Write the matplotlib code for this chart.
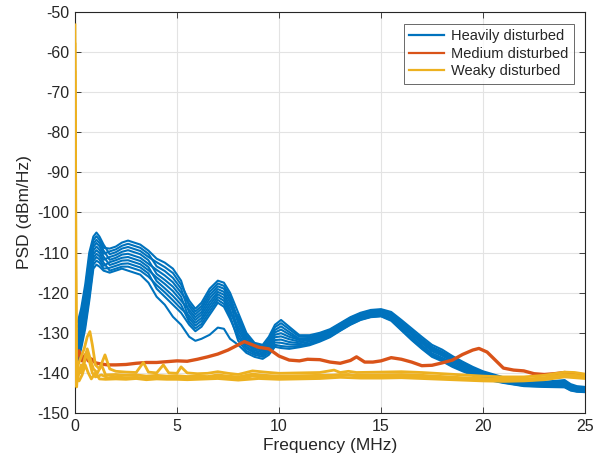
import matplotlib
matplotlib.use("Agg")
import matplotlib.pyplot as plt

plt.rcParams['font.family'] = ['Liberation Sans', 'DejaVu Sans']
plt.rcParams['axes.unicode_minus'] = False

# ---- data -------------------------------------------------------------
freq_heavy = [0, 0.15, 0.3, 0.5, 0.7, 0.9, 1.05, 1.2, 1.4,
              1.7, 2.0, 2.3, 2.6, 2.9, 3.2, 3.6,
              4.0, 4.4, 4.8, 5.2,
              5.6, 5.9, 6.2, 6.6, 7.0, 7.3, 7.6,
              8.0, 8.4, 8.8, 9.2, 9.5, 9.8, 10.1, 10.5,
              11, 11.5, 12, 12.5, 13, 13.5, 14, 14.5, 15, 15.5, 16, 16.5, 17, 17.5,
              18, 18.5, 19, 19.5, 20, 21, 22, 23, 24, 24.3, 24.6, 25]

heavy_1 = [-128, -127, -124, -118, -110, -106, -105, -106, -108,
           -110.4, -109.9, -109, -108.6, -109.1, -109.6, -111.1,
           -112.4, -113.6, -115.1, -118,
           -122, -124, -122.5, -119, -117, -117.5, -120,
           -125, -130, -132.5, -133, -131, -128, -126.8, -128.5,
           -130.6, -130.6, -130, -129.1, -127.6, -126.1, -125, -124.3, -124.1, -124.8,
           -126.8, -128.9, -131, -133, -134.2, -135.8, -137.2, -138.5, -139.6, -141.1,
           -142, -142.2, -141.8, -142.8, -143.3, -143.5]
heavy_2 = [-129.4, -128.1, -125.1, -119.3, -111.4, -106.9, -105.9, -106.8, -108.8,
           -109, -108.5, -107.5, -107, -107.5, -108, -109.5,
           -111.5, -112.5, -114, -117,
           -123.5, -125.4, -124, -120.6, -118.4, -119, -121.6,
           -127.6, -131.7, -133.6, -134.1, -132.5, -129.9, -129.2, -130.4,
           -131.7, -131.4, -130.7, -129.7, -128.2, -126.7, -125.5, -124.8, -124.6, -125.5,
           -127.7, -129.9, -132.1, -134.1, -135.2, -136.7, -138, -139.2, -140.2, -141.6,
           -142.4, -142.6, -141.9, -143.5, -143.9, -144]
heavy_3 = [-130.8, -129.3, -126.3, -120.5, -112.8, -107.8, -106.8, -107.6, -109.5,
           -111.8, -111.3, -110.5, -110.3, -110.8, -111.3, -112.8,
           -114.3, -115.7, -117.4, -120,
           -122.8, -124.7, -123.3, -119.8, -117.7, -118.3, -120.8,
           -126.8, -131.1, -133.3, -133.8, -132, -129.3, -128.4, -129.8,
           -131.5, -131.3, -130.6, -129.6, -128.1, -126.6, -125.4, -124.7, -124.5, -125.4,
           -127.5, -129.8, -131.9, -133.9, -135.1, -136.6, -137.9, -139.1, -140.1, -141.5,
           -142.3, -142.5, -142.4, -143.4, -143.8, -143.9]
heavy_4 = [-132.1, -130.4, -127.4, -121.8, -114.1, -108.6, -107.6, -108.4, -110.3,
           -109.7, -109.2, -108.3, -107.8, -108.3, -108.8, -110.3,
           -113.4, -114.6, -116.3, -119,
           -125, -126.8, -125.5, -122.3, -119.8, -120.5, -123.3,
           -125.9, -130.6, -132.9, -133.4, -131.5, -128.6, -127.6, -129.1,
           -131, -131, -130.3, -129.3, -127.8, -126.3, -125.2, -124.5, -124.3, -125.1,
           -127.2, -129.4, -131.5, -133.5, -134.7, -136.2, -137.6, -138.8, -139.9, -141.3,
           -142.2, -142.4, -142.1, -143.1, -143.6, -143.7]
heavy_5 = [-133.5, -131.5, -128.5, -123, -115.5, -109.5, -108.5, -109.3, -111,
           -113.1, -112.6, -112, -111.9, -112.4, -112.9, -114.4,
           -116.2, -117.8, -119.6, -122,
           -124.3, -126.1, -124.8, -121.4, -119.1, -119.8, -122.4,
           -129.4, -132.8, -134.4, -134.9, -133.5, -131.1, -130.9, -131.6,
           -132.2, -131.8, -131.1, -130.1, -128.6, -127.1, -125.9, -125.2, -125, -125.9,
           -128.2, -130.4, -132.6, -134.6, -135.7, -137.2, -138.4, -139.6, -140.6, -141.8,
           -142.6, -142.8, -142.8, -143.7, -144.1, -144.2]
heavy_6 = [-134.9, -132.6, -129.6, -124.3, -116.9, -110.4, -109.4, -110.1, -111.8,
           -111.1, -110.6, -109.8, -109.4, -109.9, -110.4, -111.9,
           -115.3, -116.8, -118.5, -121,
           -126.5, -128.2, -127, -123.9, -121.1, -122, -124.9,
           -128.5, -132.3, -134, -134.5, -133, -130.5, -130.1, -131,
           -131.8, -131.5, -130.8, -129.8, -128.3, -126.8, -125.6, -124.9, -124.7, -125.6,
           -127.8, -130, -132.2, -134.2, -135.3, -136.8, -138.1, -139.3, -140.3, -141.6,
           -142.4, -142.6, -142.5, -143.5, -143.9, -144]
heavy_7 = [-136.3, -133.8, -130.8, -125.5, -118.3, -111.3, -110.3, -110.9, -112.5,
           -114.5, -114, -113.5, -113.5, -114, -114.5, -116,
           -118.1, -119.9, -121.9, -124,
           -125.8, -127.5, -126.3, -123.1, -120.4, -121.3, -124.1,
           -130.3, -133.4, -134.8, -135.3, -134, -131.8, -131.7, -132.3,
           -132.6, -132.2, -131.4, -130.4, -128.9, -127.4, -126.2, -125.5, -125.3, -126.3,
           -128.6, -130.9, -133.1, -135.1, -136.2, -137.6, -138.8, -139.9, -140.8, -142,
           -142.8, -143, -143, -144, -144.3, -144.4]
heavy_8 = [-137.6, -134.9, -131.9, -126.8, -119.6, -112.1, -111.1, -111.7, -113.3,
           -112.4, -111.9, -111.3, -111.1, -111.6, -112.1, -113.6,
           -117.1, -118.9, -120.8, -123,
           -127.3, -128.9, -127.8, -124.7, -121.8, -122.8, -125.7,
           -132, -134.5, -135.5, -136, -135, -133, -133.3, -133.5,
           -133.3, -132.9, -132, -130.9, -129.4, -127.9, -126.7, -126, -125.8, -126.8,
           -129.2, -131.6, -133.8, -135.8, -136.9, -138.3, -139.4, -140.4, -141.3, -142.4,
           -143.2, -143.4, -143.5, -144.3, -144.6, -144.7]
heavy_9 = [-139, -136, -133, -128, -121, -113, -112, -112.5, -114,
           -113.8, -113.3, -112.8, -112.7, -113.2, -113.7, -115.2,
           -119, -121, -123, -125,
           -128, -129.6, -128.5, -125.5, -122.5, -123.5, -126.5,
           -131.1, -133.9, -135.1, -135.6, -134.5, -132.4, -132.5, -132.9,
           -133, -132.6, -131.7, -130.7, -129.2, -127.7, -126.5, -125.8, -125.6, -126.6,
           -129, -131.3, -133.5, -135.5, -136.6, -138, -139.2, -140.2, -141.1, -142.2,
           -143, -143.2, -143.3, -144.2, -144.5, -144.6]
heavy_10 = [-140, -137, -134, -129, -122, -114, -113, -113.5, -114.5,
            -115, -114.5, -114, -114.5, -115, -115.5, -117.5,
            -121, -123, -126, -128,
            -131, -132, -131.5, -130.5, -128.7, -129, -131.5,
            -133, -135, -136, -136.5, -135.5, -133.5, -133.8, -134,
            -133.6, -133.1, -132.2, -131.1, -129.5, -128, -126.8, -126.1, -125.9, -127,
            -129.4, -131.8, -134, -136, -137.1, -138.5, -139.6, -140.6, -141.5, -142.5,
            -143.3, -143.5, -143.6, -144.4, -144.7, -144.8]

freq_medium = [0, 0.1, 0.2, 0.35, 0.5, 0.65, 0.8, 1.0, 1.3, 1.6, 2.0, 2.5, 3.0, 3.5,
               4.0, 4.5, 5.0, 5.5, 6.0, 6.5, 7.0, 7.5, 8.0, 8.3, 8.6, 9.0, 9.5, 10.0,
               10.5, 11.0, 11.4, 12.0, 12.5, 13.0, 13.5, 13.8, 14.2, 14.6, 15.0, 15.5,
               16.0, 16.5, 17.0, 17.5, 18.0, 18.5, 19.0, 19.5, 19.8, 20.2, 20.6, 21.0,
               21.5, 22.0, 22.5, 23.0, 23.5, 24.0, 24.5, 25]
medium = [-142, -136, -134.5, -137, -135.5, -137, -136.5, -137.5, -137.8, -138, -138,
          -137.9, -137.6, -137.4, -137.4, -137.2, -137, -137.1, -136.6, -136, -135.3,
          -134.3, -133, -132.2, -132.8, -133.6, -134, -135.8, -136.8, -137, -136.6,
          -136.7, -137.3, -137.6, -136.9, -136, -137.3, -137.3, -137, -136.2, -136.6,
          -137.3, -138.2, -138.1, -137.5, -136.8, -135.4, -134.3, -133.9, -134.8, -136.8,
          -138.8, -139.3, -139.5, -140.2, -140.4, -140.2, -139.9, -140.2, -140.5]

freq_weak_1 = [0, 0.04, 0.08, 0.15, 0.3, 0.45, 0.6, 0.73, 0.85, 1.0, 1.2, 1.47, 1.7,
               2.0, 2.5, 3.0, 3.35, 3.6, 4.0, 4.33, 4.6, 5.0, 5.2, 5.5, 6.0, 6.5, 7.0,
               7.5, 8.0, 8.7, 9.3, 10, 11, 12, 12.7, 13.0, 13.4, 13.8, 15, 16, 17, 18,
               19, 20, 21, 22, 23, 24, 24.5, 25]
weak_1 = [-53.2, -100, -143.5, -138, -136, -134, -131, -129.7, -133, -138, -139,
          -135.5, -139, -139.6, -139.8, -139.9, -137.4, -139.8, -140, -138, -140,
          -140.1, -138.5, -140, -140.2, -140.1, -139.7, -140.1, -140.4, -139.5, -139.8,
          -140.1, -140, -139.9, -139.3, -139.9, -139.6, -139.9, -139.8, -139.7, -139.9,
          -140.2, -140.5, -140.8, -141, -141, -140.6, -139.8, -139.9, -140.3]

freq_weak_2 = [0, 0.05, 0.15, 0.3, 0.45, 0.6, 0.75, 0.9, 1.1, 1.3, 1.5, 2.0, 2.5,
               3.0, 3.5, 4.0, 4.5, 5.0, 5.5, 6.0, 6.5, 7.0, 7.5, 8.0, 8.7, 9.3, 10,
               11, 12, 13, 14, 15, 16, 17, 18, 19, 20, 21, 22, 23, 24, 25]
weak_2 = [-58, -142, -139, -140, -137, -134, -136.5, -139, -140, -138, -140.5, -140.4,
          -140.6, -140.5, -140.8, -140.6, -140.8, -140.7, -140.9, -140.8, -140.9,
          -140.5, -140.8, -141, -140.3, -140.6, -140.8, -140.7, -140.6, -140.5, -140.6,
          -140.5, -140.4, -140.6, -140.9, -141.2, -141.4, -141.6, -141.6, -141.2,
          -140.4, -140.8]

freq_weak_3 = [0, 0.05, 0.15, 0.3, 0.4, 0.55, 0.7, 0.85, 1.0, 1.3, 1.6, 2.0, 2.5,
               3.0, 3.5, 4.0, 4.5, 5.0, 5.5, 6.0, 6.5, 7.0, 7.5, 8.0, 8.7, 9.3, 10,
               11, 12, 12.7, 13.4, 14, 15, 16, 17, 18, 19, 20, 21, 22, 23, 24, 25]
weak_3 = [-65, -143, -141, -138, -139, -135, -137, -140, -141, -140.5, -141.2, -141,
          -141.2, -141.1, -141.3, -141.1, -141.4, -141.2, -141.4, -141.3, -141.2, -141,
          -141.3, -141.5, -140.8, -141.1, -141.3, -141.2, -141, -140.6, -140.4, -141,
          -141, -140.9, -141.1, -141.4, -141.6, -141.8, -142, -141.9, -141.5, -140.8,
          -141.2]

freq_weak_4 = [0, 0.05, 0.2, 0.35, 0.5, 0.65, 0.8, 1.0, 1.2, 1.5, 2.0, 2.5, 3.0, 3.5,
               4.0, 4.5, 5.0, 5.5, 6.0, 6.5, 7.0, 7.5, 8.0, 9, 10, 11, 12, 13, 14, 15,
               16, 17, 18, 19, 20, 21, 22, 23, 24, 25]
weak_4 = [-75, -141, -142, -140.5, -138, -140, -141.5, -140, -141.5, -141.6, -141.5,
          -141.6, -141.4, -141.7, -141.5, -141.6, -141.6, -141.7, -141.6, -141.5,
          -141.4, -141.6, -141.8, -141.4, -141.6, -141.5, -141.4, -141.1, -141.3,
          -141.3, -141.2, -141.4, -141.6, -141.8, -142, -142.1, -142, -141.7, -141,
          -141.4]

heavy_runs = [heavy_1, heavy_2, heavy_3, heavy_4, heavy_5,
              heavy_6, heavy_7, heavy_8, heavy_9, heavy_10]
weak_runs = [(freq_weak_1, weak_1), (freq_weak_2, weak_2),
             (freq_weak_3, weak_3), (freq_weak_4, weak_4)]

series_labels = ['Heavily disturbed', 'Medium disturbed', 'Weaky disturbed']
x_ticks = [0, 5, 10, 15, 20, 25]
y_ticks = list(range(-150, -49, 10))

# ---- drawing ----------------------------------------------------------
c_blue = '#0072BD'
c_orange = '#D95319'
c_yellow = '#EDB120'
c_text = '#262626'

fig = plt.figure(figsize=(5.93, 4.69), dpi=100)
ax = fig.add_axes([75 / 593, 56 / 469, 510 / 593, 401 / 469])

for i, run in enumerate(heavy_runs):
    ax.plot(freq_heavy, run, color=c_blue, lw=1.5, solid_joinstyle='round',
            label=series_labels[0] if i == 0 else None, zorder=3)

ax.plot(freq_medium, medium, color=c_orange, lw=2.4, solid_joinstyle='round',
        label=series_labels[1], zorder=4)

for i, (fx, fy) in enumerate(weak_runs):
    ax.plot(fx, fy, color=c_yellow, lw=2.0, solid_joinstyle='round',
            label=series_labels[2] if i == 0 else None, zorder=5)

ax.set_xlim(0, 25)
ax.set_ylim(-150, -50)
ax.set_xticks(x_ticks)
ax.set_yticks(y_ticks)
ax.set_xticklabels([str(v) for v in x_ticks])
ax.set_yticklabels([str(v) for v in y_ticks])

ax.grid(True, color='#e3e3e3', lw=0.8)
ax.set_axisbelow(True)
ax.tick_params(direction='in', length=4, width=0.6, top=True, right=True,
               labelsize=11.5, colors=c_text, pad=4)
for s in ax.spines.values():
    s.set_color(c_text)
    s.set_linewidth(0.8)

ax.set_xlabel('Frequency (MHz)', fontsize=12.5, color=c_text, labelpad=3)
ax.set_ylabel('PSD (dBm/Hz)', fontsize=12.5, color=c_text, labelpad=4)

leg = ax.legend(loc='upper right', bbox_to_anchor=(0.978, 0.970), borderaxespad=0,
                fontsize=10.5, frameon=True, fancybox=False, handlelength=2.4,
                labelspacing=0.25, borderpad=0.35, handletextpad=0.5)
leg.get_frame().set_edgecolor(c_text)
leg.get_frame().set_linewidth(0.6)
for line in leg.get_lines():
    line.set_linewidth(1.6)
for t in leg.get_texts():
    t.set_color(c_text)

fig.savefig('out.png', dpi=100)
